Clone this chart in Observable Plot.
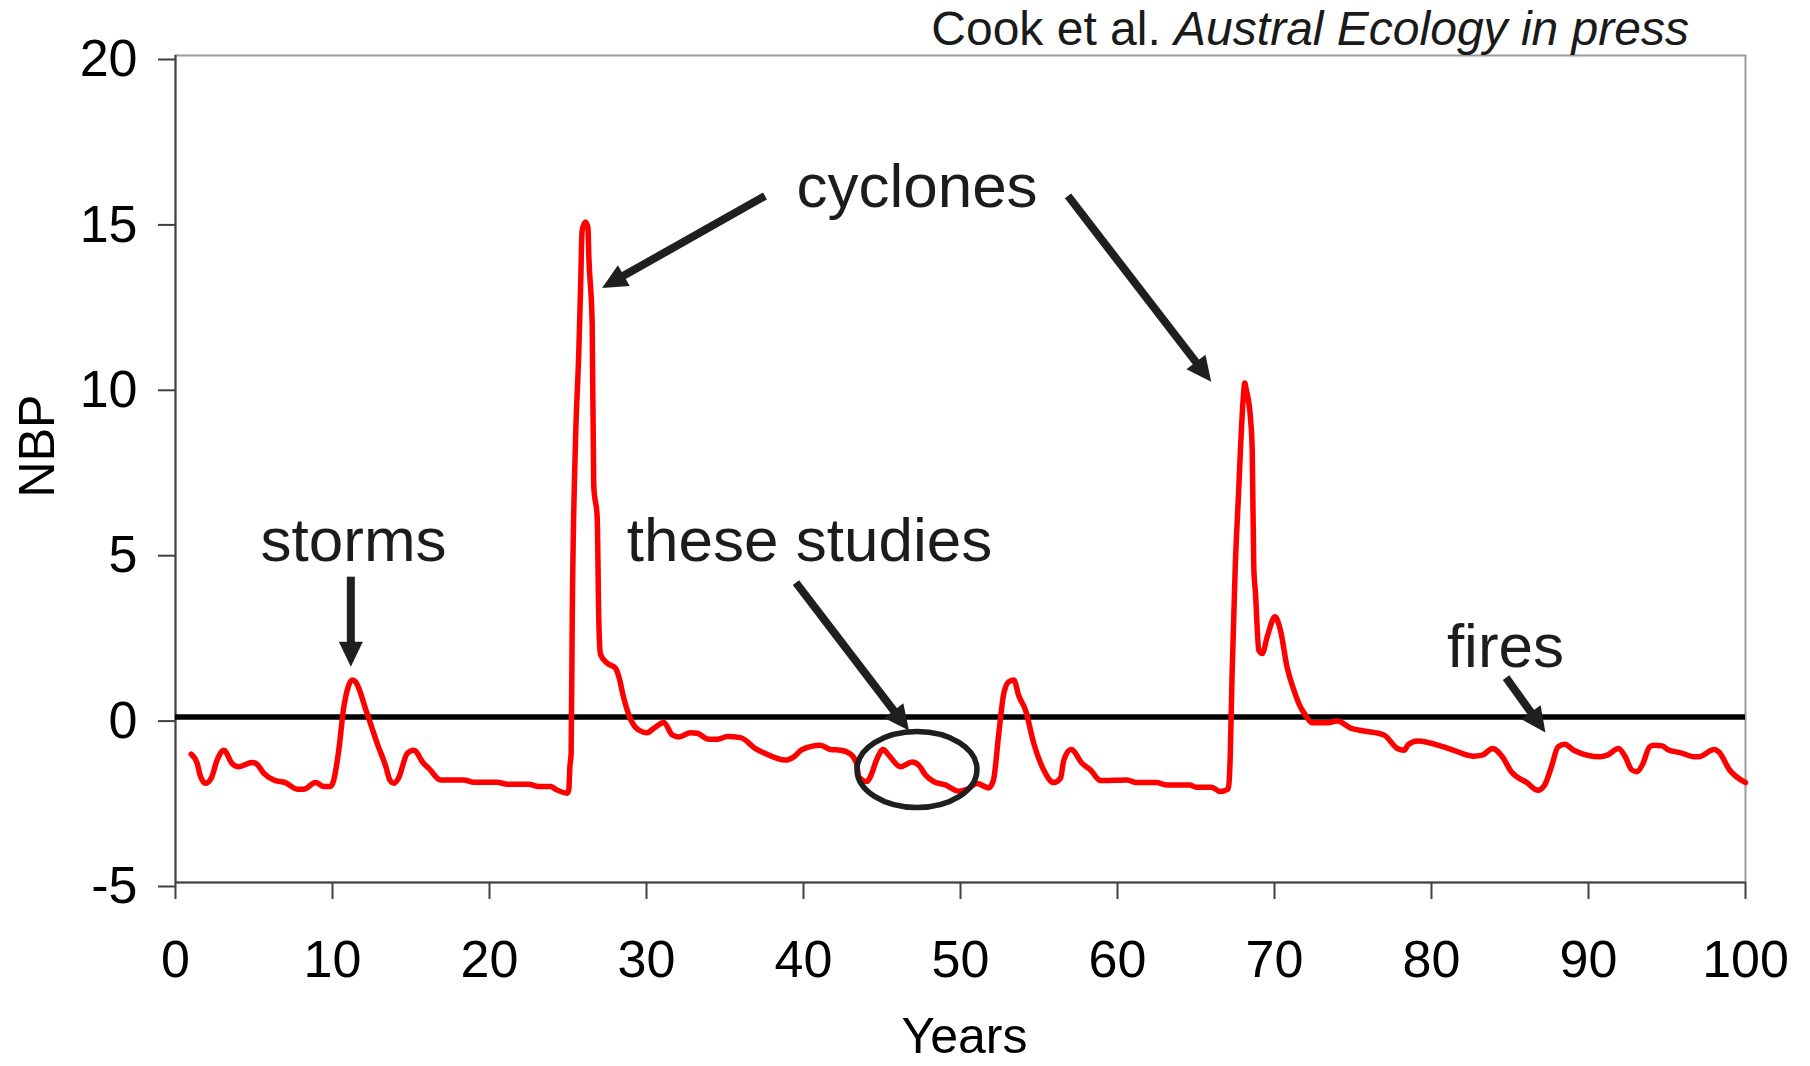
<!DOCTYPE html>
<html>
<head>
<meta charset="utf-8">
<script src="https://cdn.jsdelivr.net/npm/d3@7"></script>
<script src="https://cdn.jsdelivr.net/npm/@observablehq/plot@0.6"></script>
<style>
  html, body { margin: 0; padding: 0; background: #fff; }
  #wrap { position: relative; width: 1810px; height: 1066px; overflow: hidden; }
  #title { position: absolute; top: 5px; right: 121px; font-family: "Liberation Sans", Arial, sans-serif;
           font-size: 48px; line-height: 48px; color: #1a1a1a; white-space: nowrap; }
  #title i { font-style: italic; }
</style>
</head>
<body>
<div id="wrap">
  <div id="title">Cook et al. <i>Austral Ecology in press</i></div>
</div>
<script>
// ---- data ----
const years = [1.0,1.38,1.6,1.91,2.27,2.65,3.08,3.6,4.03,4.88,5.2,5.63,6.26,7.0,7.75,8.17,8.92,9.45,9.87,10.08,
  10.4,10.72,10.94,11.25,11.46,12.2,12.85,13.4,13.65,13.9,14.2,14.76,15.18,15.8,16.14,16.88,18.37,19.0,20.49,21.13,
  22.5,23.14,23.9,24.2,24.95,25.05,25.12,25.2,25.27,25.48,25.69,25.8,25.9,26.11,26.27,26.33,26.54,26.64,26.86,26.96,
  27.07,27.5,28.03,28.24,28.55,28.98,29.5,30.04,30.46,31.1,31.64,32.06,32.8,33.23,33.97,34.5,35.14,35.99,36.94,37.47,
  38.85,39.38,39.92,41.08,41.72,42.36,43.0,43.38,43.52,44.05,44.26,44.69,45.07,45.43,46.18,46.92,47.35,47.77,48.3,49.04,
  49.89,50.42,51.06,51.8,52.1,52.44,52.76,53.08,53.4,53.7,54.14,54.67,55.3,55.94,56.37,56.58,57.05,57.75,58.28,58.92,
  60.62,61.19,62.47,63.18,64.6,65.03,66.0,66.53,67.05,67.18,67.3,67.5,67.72,67.83,68.0,68.11,68.2,68.47,68.58,68.68,
  68.79,69.0,69.22,69.54,70.03,70.38,70.8,71.23,71.55,71.97,72.4,73.4,74.0,74.9,75.7,76.97,77.83,78.25,78.54,79.11,
  81.1,82.66,83.23,83.89,84.51,85.08,86.07,86.78,87.21,87.64,88.06,88.49,89.06,90.76,91.2,91.91,92.34,92.76,93.1,93.47,
  93.89,94.18,94.7,95.03,95.89,96.74,97.0,98.01,98.3,98.99,100.0];
const nbp = [-1.12,-1.40,-1.80,-2.00,-1.85,-1.30,-1.00,-1.40,-1.50,-1.37,-1.43,-1.70,-1.90,-1.98,-2.18,-2.18,-1.98,-2.10,-2.10,-1.90,
  -1.00,0.31,0.82,1.12,1.07,0.11,-0.80,-1.50,-1.90,-2.00,-1.85,-1.10,-1.00,-1.40,-1.55,-1.90,-1.90,-1.97,-1.97,-2.03,
  -2.03,-2.10,-2.10,-2.18,-2.30,-2.20,-1.50,-1.10,2.97,8.37,11.06,12.95,14.7,14.97,14.8,13.9,11.9,6.98,6.04,2.97,
  1.89,1.63,1.48,1.22,0.58,-0.06,-0.39,-0.47,-0.34,-0.16,-0.54,-0.60,-0.47,-0.49,-0.67,-0.67,-0.59,-0.62,-0.95,-1.08,
  -1.30,-1.20,-0.98,-0.85,-0.98,-1.00,-1.12,-1.40,-1.80,-1.95,-1.80,-1.25,-0.98,-1.15,-1.50,-1.36,-1.46,-1.75,-1.95,-2.05,
  -2.24,-2.18,-2.01,-2.14,-1.90,-0.49,0.72,1.07,1.12,0.66,0.21,-0.80,-1.60,-1.98,-1.85,-1.30,-0.98,-1.40,-1.60,-1.92,
  -1.90,-1.98,-1.98,-2.05,-2.05,-2.12,-2.12,-2.25,-2.18,-1.20,1.32,4.54,6.86,8.07,9.58,10.1,9.9,9.04,8.07,4.54,
  3.74,2.02,1.92,2.43,3.03,2.62,1.51,0.82,0.41,0.06,-0.17,-0.17,-0.12,-0.34,-0.42,-0.54,-0.95,-1.00,-0.82,-0.72,
  -0.95,-1.18,-1.15,-0.95,-1.20,-1.65,-1.98,-2.21,-2.05,-1.50,-0.90,-0.82,-1.00,-1.20,-1.15,-0.95,-1.20,-1.60,-1.65,-1.40,
  -0.90,-0.85,-0.87,-0.98,-1.08,-1.20,-1.20,-0.98,-1.05,-1.60,-1.98];
const xTicks = [0,10,20,30,40,50,60,70,80,90,100];
const yTicks = [-5,0,5,10,15,20];
const yTickLabels = ["-5","0","5","10","15","20"];
const labels = [
  {text: "cyclones", x: 47.23, y: 15.41},
  {text: "storms", x: 11.34, y: 4.72},
  {text: "these studies", x: 40.38, y: 4.72},
  {text: "fires", x: 84.71, y: 1.51}
];
const arrows = [
  {x1: 11.2, y1: 4.23, x2: 11.2, y2: 1.51},
  {x1: 37.58, y1: 15.74, x2: 27.2, y2: 12.96},
  {x1: 56.88, y1: 15.74, x2: 66.0, y2: 10.12},
  {x1: 39.55, y1: 4.05, x2: 46.75, y2: -0.42},
  {x1: 84.78, y1: 1.18, x2: 87.29, y2: -0.48}
];
const ellipses = [{x: 47.26, y: -1.6, rx: 3.82, ry: 1.15}];

const table = years.map((yr, i) => ({year: yr, nbp: nbp[i]}));
const font = "'Liberation Sans', Arial, Helvetica, sans-serif";

const plot = Plot.plot({
  width: 1810,
  height: 1066,
  marginLeft: 175,
  marginRight: 65,
  marginTop: 55,
  marginBottom: 184,
  style: {fontFamily: font, background: "white", color: "black", overflow: "visible"},
  x: {domain: [0, 100]},
  y: {domain: [-5, 20]},
  marks: [
    Plot.frame({stroke: "#9a9a9a", strokeWidth: 2}),
    Plot.ruleX([0], {stroke: "#404040", strokeWidth: 2}),
    Plot.ruleY([-5], {stroke: "#404040", strokeWidth: 2}),
    Plot.axisX(xTicks, {tickSize: 17, tickPadding: 41, fontSize: 52, label: null, strokeWidth: 2, stroke: "#404040", fill: "black", tickFormat: d => String(d)}),
    Plot.axisY(yTicks, {tickSize: 17, tickPadding: 21, fontSize: 52, dy: 4, label: null, strokeWidth: 2, stroke: "#404040", fill: "black",
      tickFormat: d => yTickLabels[yTicks.indexOf(d)]}),
    Plot.ruleY([0], {stroke: "black", strokeWidth: 5.5}),
    Plot.line(table, {x: "year", y: "nbp", stroke: "#ff0000", strokeWidth: 5.5, curve: "monotone-x", strokeLinejoin: "round", strokeLinecap: "round"}),
    Plot.text(labels, {x: "x", y: "y", text: "text", fontSize: 62, lineAnchor: "bottom", textAnchor: "middle", fill: "#1c1c1c"}),
    Plot.text(["NBP"], {frameAnchor: "left", dx: -122, dy: -23, rotate: -90, lineAnchor: "bottom", textAnchor: "middle", fontSize: 50, fill: "black"}),
    Plot.text(["Years"], {frameAnchor: "bottom", dx: 4, dy: 170, lineAnchor: "bottom", textAnchor: "middle", fontSize: 50, fill: "black"})
  ]
});

// arrows and ellipse drawn through the plot's own scales
const sx = plot.scale("x"), sy = plot.scale("y");
const g = d3.select(plot).append("g");
const ink = "#1f1f1f";
arrows.forEach(a => {
  const x1 = sx.apply(a.x1), y1 = sy.apply(a.y1), x2 = sx.apply(a.x2), y2 = sy.apply(a.y2);
  const dx = x2 - x1, dy = y2 - y1, L = Math.hypot(dx, dy), ux = dx / L, uy = dy / L;
  const hl = 25, hw = 12;
  const bx = x2 - ux * hl, by = y2 - uy * hl;
  g.append("line").attr("x1", x1).attr("y1", y1).attr("x2", bx + ux * 2).attr("y2", by + uy * 2)
    .attr("stroke", ink).attr("stroke-width", 8);
  g.append("path").attr("d", `M${x2},${y2}L${bx - uy * hw},${by + ux * hw}L${bx + uy * hw},${by - ux * hw}Z`)
    .attr("fill", ink);
});
ellipses.forEach(e => {
  const cx = sx.apply(e.x), cy = sy.apply(e.y);
  const rx = Math.abs(sx.apply(e.x + e.rx) - cx), ry = Math.abs(sy.apply(e.y + e.ry) - cy);
  g.append("ellipse").attr("cx", cx).attr("cy", cy).attr("rx", rx).attr("ry", ry)
    .attr("fill", "none").attr("stroke", ink).attr("stroke-width", 5.5);
});

document.getElementById("wrap").prepend(plot);
</script>
</body>
</html>
